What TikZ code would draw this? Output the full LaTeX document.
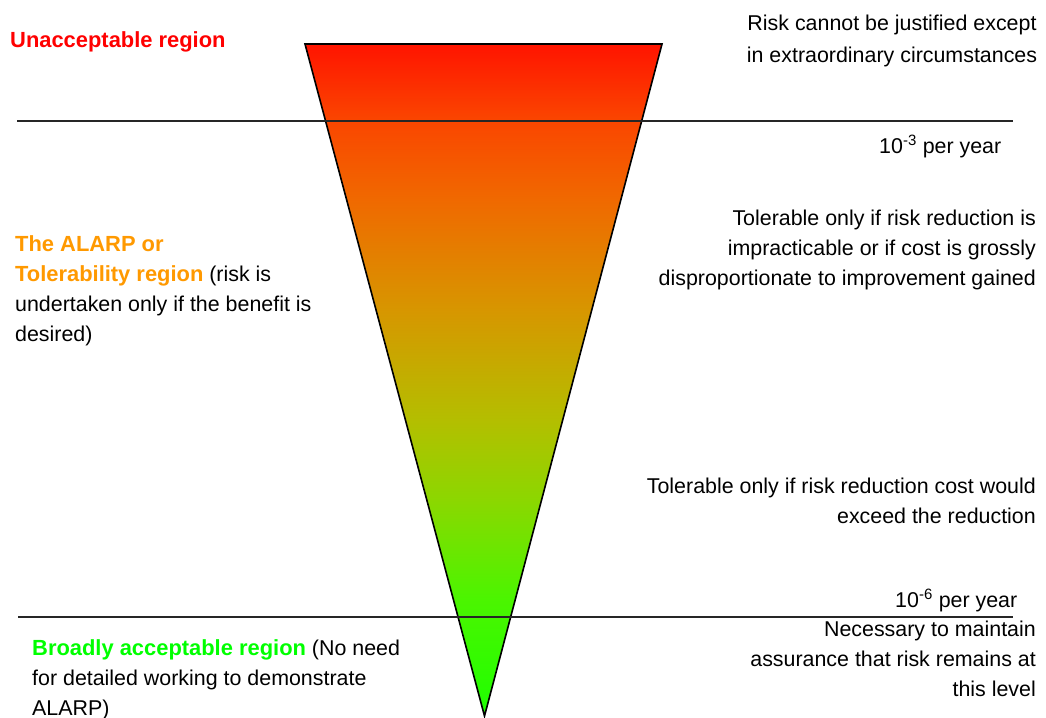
\documentclass[tikz,border=0pt]{standalone}
\usepackage{fontspec}
\setmainfont{Liberation Sans}

% colours of the risk funnel, from the apex up to the wide end
\definecolor{shA}{RGB}{30,255,0}
\definecolor{shB}{RGB}{75,245,0}
\definecolor{shC}{RGB}{140,215,0}
\definecolor{shD}{RGB}{180,190,0}
\definecolor{shE}{RGB}{215,150,0}
\definecolor{shF}{RGB}{240,105,0}
\definecolor{shG}{RGB}{250,70,0}
\definecolor{shH}{RGB}{255,20,0}
\definecolor{alarpRed}{RGB}{255,0,0}
\definecolor{alarpOrange}{RGB}{255,153,0}
\definecolor{alarpGreen}{RGB}{0,255,0}

\pgfdeclareverticalshading{riskfade}{100bp}{%
  color(0bp)=(shA); color(25bp)=(shA); color(33.69bp)=(shB);
  color(41.12bp)=(shC); color(47.07bp)=(shD); color(55.24bp)=(shE);
  color(63.41bp)=(shF); color(69.28bp)=(shG); color(75bp)=(shH);
  color(100bp)=(shH)}

% stacked lines whose anchor is the baseline of the first line
\newcommand\stackL[1]{\begin{tabular}[t]{@{}l@{}}#1\end{tabular}}
\newcommand\stackR[1]{\begin{tabular}[t]{@{}r@{}}#1\end{tabular}}
\newcommand\stackC[1]{\begin{tabular}[t]{@{}c@{}}#1\end{tabular}}
% region headings: bold, a touch larger than the body text
\newcommand\regionname[2]{{\fontsize{21.9}{30}\selectfont\bfseries\color{#1}#2}}

\begin{document}
\begin{tikzpicture}[x=1pt,y=-1pt,
  txt/.style={inner sep=0pt, font=\fontsize{21.4}{30}\selectfont},
  txtwide/.style={inner sep=0pt, font=\fontsize{21.4}{32}\selectfont},
  rule/.style={line width=1.3pt, draw=black!85},
  funnel/.style={line width=1.6pt, draw=black}]
\useasboundingbox (0,0) rectangle (1046,717);

% funnel
\coordinate (tl) at (305,44);
\coordinate (tr) at (662,44);
\coordinate (apex) at (484.5,716);
\path[shading=riskfade] (tl) -- (tr) -- (apex) -- cycle;
\draw[funnel] (tl) -- (tr) -- (apex) -- cycle;

% limits between the regions
\coordinate (upW) at (17,121);
\coordinate (upE) at (1013,121);
\coordinate (loW) at (18,617);
\coordinate (loE) at (1013,617);
\draw[rule] (upW) -- (upE);
\draw[rule] (loW) -- (loE);

% region names
\node[txt, anchor=base west] (unacc) at (10,48)
  {\regionname{alarpRed}{Unacceptable region}};
\node[txt, anchor=base west] (alarp) at (15,251)
  {\stackL{\regionname{alarpOrange}{The ALARP or}\\
   \regionname{alarpOrange}{Tolerability region} (risk is\\
   undertaken only if the benefit is\\
   desired)}};
\node[txt, anchor=base west] (broad) at (32,655)
  {\stackL{\regionname{alarpGreen}{Broadly acceptable region} (No need\\
   for detailed working to demonstrate\\
   ALARP)}};

% conditions and thresholds
\node[txtwide, anchor=base] (justify) at (892,31)
  {\stackC{Risk cannot be justified except\\in extraordinary circumstances}};
\node[txt, anchor=base west] (perThree) at (879,153)
  {10\textsuperscript{-3} per year};
\node[txt, anchor=base east] (tolA) at (1036,225)
  {\stackR{Tolerable only if risk reduction is\\
   impracticable or if cost is grossly\\
   disproportionate to improvement gained}};
\node[txt, anchor=base east] (tolB) at (1036,493)
  {\stackR{Tolerable only if risk reduction cost would\\
   exceed the reduction}};
\node[txt, anchor=base west] (perSix) at (895,607)
  {10\textsuperscript{-6} per year};
\node[txt, anchor=base east] (nec) at (1036,636)
  {\stackR{Necessary to maintain\\
   assurance that risk remains at\\
   this level}};
\end{tikzpicture}
\end{document}
